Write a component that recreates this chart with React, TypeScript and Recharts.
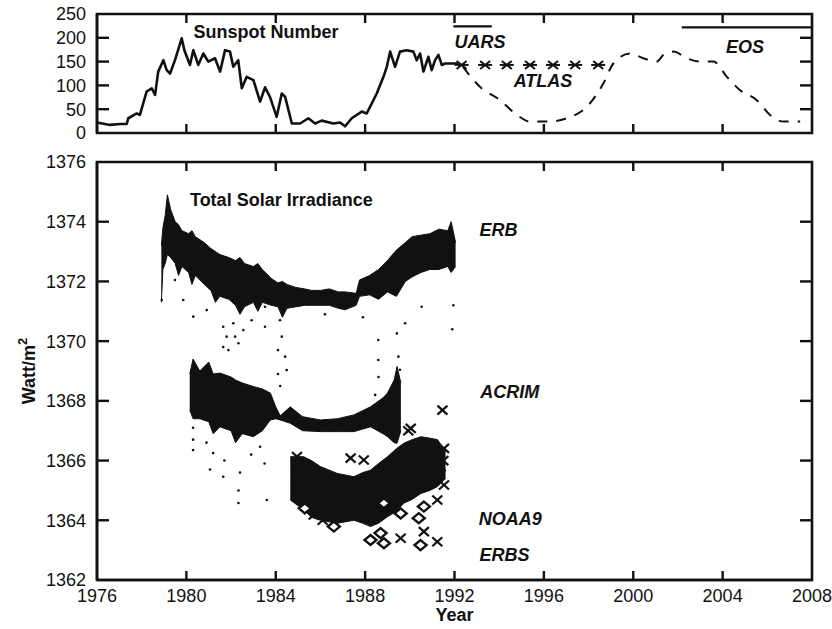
import React from "react";
import {
  ComposedChart,
  Line,
  Area,
  Scatter,
  XAxis,
  YAxis,
  ReferenceDot,
  Label,
} from "recharts";

// axes
const yearTicks = [1976, 1980, 1984, 1988, 1992, 1996, 2000, 2004, 2008];
const sunspotTicks = [0, 50, 100, 150, 200, 250];
const tsiTicks = [1362, 1364, 1366, 1368, 1370, 1372, 1374, 1376];

// top panel: sunspot number
const sunspotObserved = [
  { x: 1976.0, y: 22 }, { x: 1976.58, y: 17 }, { x: 1977.03, y: 19 }, { x: 1977.33, y: 19 },
  { x: 1977.4, y: 31 }, { x: 1977.78, y: 41 }, { x: 1977.92, y: 38 }, { x: 1978.22, y: 87 },
  { x: 1978.45, y: 94 }, { x: 1978.6, y: 80 }, { x: 1978.74, y: 129 }, { x: 1978.97, y: 153 },
  { x: 1979.12, y: 132 }, { x: 1979.27, y: 125 }, { x: 1979.49, y: 153 }, { x: 1979.79, y: 199 },
  { x: 1979.91, y: 174 }, { x: 1980.16, y: 143 }, { x: 1980.31, y: 174 }, { x: 1980.53, y: 143 },
  { x: 1980.76, y: 167 }, { x: 1980.98, y: 150 }, { x: 1981.28, y: 157 }, { x: 1981.51, y: 129 },
  { x: 1981.73, y: 174 }, { x: 1981.95, y: 171 }, { x: 1982.1, y: 139 }, { x: 1982.32, y: 153 },
  { x: 1982.48, y: 94 }, { x: 1982.7, y: 118 }, { x: 1983.0, y: 111 }, { x: 1983.3, y: 66 },
  { x: 1983.52, y: 96 }, { x: 1983.74, y: 76 }, { x: 1984.04, y: 34 }, { x: 1984.27, y: 83 },
  { x: 1984.42, y: 76 }, { x: 1984.72, y: 20 }, { x: 1985.09, y: 20 }, { x: 1985.46, y: 31 },
  { x: 1985.76, y: 20 }, { x: 1986.06, y: 26 }, { x: 1986.58, y: 20 }, { x: 1986.88, y: 22 },
  { x: 1987.1, y: 14 }, { x: 1987.4, y: 31 }, { x: 1987.85, y: 45 }, { x: 1988.07, y: 41 },
  { x: 1988.22, y: 55 }, { x: 1988.52, y: 83 }, { x: 1988.82, y: 118 }, { x: 1988.97, y: 139 },
  { x: 1989.12, y: 171 }, { x: 1989.34, y: 139 }, { x: 1989.56, y: 171 }, { x: 1989.86, y: 174 },
  { x: 1990.16, y: 171 }, { x: 1990.31, y: 153 }, { x: 1990.46, y: 167 }, { x: 1990.61, y: 129 },
  { x: 1990.83, y: 160 }, { x: 1990.98, y: 132 }, { x: 1991.13, y: 153 }, { x: 1991.28, y: 164 },
  { x: 1991.43, y: 143 }, { x: 1991.58, y: 146 }, { x: 1992.17, y: 146 },
];

const sunspotPredicted = [
  { x: 1992.38, y: 139 }, { x: 1993.14, y: 97 }, { x: 1994.04, y: 69 }, { x: 1994.79, y: 38 },
  { x: 1995.38, y: 24 }, { x: 1996.28, y: 24 }, { x: 1997.02, y: 31 }, { x: 1997.92, y: 55 },
  { x: 1998.66, y: 104 }, { x: 1999.11, y: 146 }, { x: 1999.86, y: 167 }, { x: 2000.45, y: 157 },
  { x: 2001.05, y: 150 }, { x: 2001.35, y: 164 }, { x: 2001.8, y: 171 }, { x: 2002.4, y: 157 },
  { x: 2003.0, y: 150 }, { x: 2003.59, y: 150 }, { x: 2004.19, y: 118 }, { x: 2004.78, y: 90 },
  { x: 2005.53, y: 69 }, { x: 2006.12, y: 38 }, { x: 2006.72, y: 24 }, { x: 2007.47, y: 24 },
];

const atlasFlights = [
  { x: 1992.32, y: 143 }, { x: 1993.37, y: 143 }, { x: 1994.34, y: 143 }, { x: 1995.38, y: 143 },
  { x: 1996.41, y: 143 }, { x: 1997.4, y: 143 }, { x: 1998.43, y: 143 },
];

const uarsSpan = [{ x: 1991.95, y: 224 }, { x: 1993.67, y: 224 }];
const eosSpan = [{ x: 2002.17, y: 222 }, { x: 2008, y: 222 }];

// bottom panel: total solar irradiance (dense record drawn as low/high envelope)
const erbBand = [
  { x: 1978.88, lo: 1371.3, hi: 1373.2 }, { x: 1978.95, lo: 1372.4, hi: 1373.8 },
  { x: 1979.05, lo: 1372.6, hi: 1374.2 }, { x: 1979.15, lo: 1372.9, hi: 1374.9 },
  { x: 1979.3, lo: 1372.8, hi: 1374.4 }, { x: 1979.5, lo: 1372.6, hi: 1374.0 },
  { x: 1979.65, lo: 1372.2, hi: 1373.9 }, { x: 1979.8, lo: 1372.5, hi: 1373.7 },
  { x: 1980.1, lo: 1372.3, hi: 1373.6 }, { x: 1980.25, lo: 1371.9, hi: 1373.7 },
  { x: 1980.4, lo: 1372.2, hi: 1373.5 }, { x: 1980.8, lo: 1371.9, hi: 1373.3 },
  { x: 1981.1, lo: 1371.7, hi: 1373.1 }, { x: 1981.3, lo: 1371.3, hi: 1373.0 },
  { x: 1981.5, lo: 1371.5, hi: 1372.9 }, { x: 1981.9, lo: 1371.4, hi: 1372.8 },
  { x: 1982.2, lo: 1371.2, hi: 1372.7 }, { x: 1982.4, lo: 1370.9, hi: 1372.8 },
  { x: 1982.6, lo: 1371.15, hi: 1372.6 }, { x: 1983.0, lo: 1371.3, hi: 1372.5 },
  { x: 1983.2, lo: 1371.0, hi: 1372.6 }, { x: 1983.4, lo: 1371.3, hi: 1372.4 },
  { x: 1983.8, lo: 1371.2, hi: 1372.1 }, { x: 1984.1, lo: 1371.15, hi: 1371.95 },
  { x: 1984.3, lo: 1370.8, hi: 1372.0 }, { x: 1984.5, lo: 1371.1, hi: 1371.9 },
  { x: 1984.9, lo: 1371.15, hi: 1371.8 }, { x: 1985.3, lo: 1371.2, hi: 1371.75 },
  { x: 1985.6, lo: 1371.2, hi: 1371.7 }, { x: 1986.0, lo: 1371.2, hi: 1371.7 },
  { x: 1986.4, lo: 1371.2, hi: 1371.75 }, { x: 1986.8, lo: 1371.1, hi: 1371.65 },
  { x: 1987.1, lo: 1371.05, hi: 1371.65 }, { x: 1987.6, lo: 1371.2, hi: 1371.6 },
  { x: 1987.75, lo: 1371.5, hi: 1372.05 }, { x: 1988.2, lo: 1371.55, hi: 1372.2 },
  { x: 1988.6, lo: 1371.4, hi: 1372.4 }, { x: 1989.0, lo: 1371.65, hi: 1372.7 },
  { x: 1989.4, lo: 1371.5, hi: 1373.05 }, { x: 1989.8, lo: 1372.0, hi: 1373.3 },
  { x: 1990.1, lo: 1372.15, hi: 1373.5 }, { x: 1990.5, lo: 1372.3, hi: 1373.55 },
  { x: 1990.9, lo: 1372.4, hi: 1373.6 }, { x: 1991.3, lo: 1372.4, hi: 1373.75 },
  { x: 1991.7, lo: 1372.5, hi: 1373.7 }, { x: 1991.85, lo: 1372.3, hi: 1374.0 },
  { x: 1992.05, lo: 1372.5, hi: 1373.3 },
];

const erbDropouts = [
  { x: 1978.9, y: 1371.38 }, { x: 1979.49, y: 1372.05 }, { x: 1979.86, y: 1371.38 },
  { x: 1980.31, y: 1370.82 }, { x: 1980.91, y: 1371.04 }, { x: 1981.65, y: 1370.48 },
  { x: 1981.65, y: 1369.8 }, { x: 1981.88, y: 1369.7 }, { x: 1981.8, y: 1370.15 },
  { x: 1982.1, y: 1370.6 }, { x: 1982.18, y: 1370.15 }, { x: 1982.33, y: 1369.93 },
  { x: 1982.55, y: 1370.37 }, { x: 1982.92, y: 1370.7 }, { x: 1983.52, y: 1370.48 },
  { x: 1983.52, y: 1371.15 }, { x: 1984.19, y: 1370.7 }, { x: 1984.27, y: 1370.15 },
  { x: 1984.42, y: 1369.48 }, { x: 1984.49, y: 1369.03 }, { x: 1984.1, y: 1369.7 },
  { x: 1984.1, y: 1368.9 }, { x: 1984.2, y: 1368.5 }, { x: 1988.59, y: 1370.04 },
  { x: 1988.59, y: 1369.37 }, { x: 1988.6, y: 1368.8 }, { x: 1988.45, y: 1368.2 },
  { x: 1989.42, y: 1370.26 }, { x: 1989.49, y: 1369.48 }, { x: 1989.56, y: 1369.04 },
  { x: 1989.79, y: 1370.6 }, { x: 1990.53, y: 1371.15 }, { x: 1991.9, y: 1370.4 },
  { x: 1991.95, y: 1371.2 }, { x: 1987.9, y: 1370.8 }, { x: 1986.2, y: 1370.9 },
];

const acrimBand = [
  { x: 1980.15, lo: 1367.7, hi: 1368.9 }, { x: 1980.3, lo: 1367.4, hi: 1369.4 },
  { x: 1980.6, lo: 1367.4, hi: 1369.0 }, { x: 1981.0, lo: 1367.3, hi: 1369.3 },
  { x: 1981.2, lo: 1366.9, hi: 1368.9 }, { x: 1981.5, lo: 1367.13, hi: 1368.93 },
  { x: 1982.0, lo: 1367.0, hi: 1368.8 }, { x: 1982.2, lo: 1366.6, hi: 1368.7 },
  { x: 1982.5, lo: 1366.9, hi: 1368.6 }, { x: 1983.0, lo: 1366.8, hi: 1368.48 },
  { x: 1983.4, lo: 1367.0, hi: 1368.4 }, { x: 1983.76, lo: 1367.36, hi: 1368.26 },
  { x: 1984.0, lo: 1367.4, hi: 1367.8 }, { x: 1984.2, lo: 1367.36, hi: 1367.5 },
  { x: 1984.65, lo: 1367.25, hi: 1367.8 }, { x: 1985.2, lo: 1367.0, hi: 1367.47 },
  { x: 1986.0, lo: 1366.97, hi: 1367.36 }, { x: 1986.75, lo: 1366.97, hi: 1367.4 },
  { x: 1987.5, lo: 1366.97, hi: 1367.53 }, { x: 1988.24, lo: 1367.13, hi: 1367.8 },
  { x: 1988.8, lo: 1366.9, hi: 1368.1 }, { x: 1989.0, lo: 1366.8, hi: 1368.26 },
  { x: 1989.3, lo: 1366.6, hi: 1368.7 }, { x: 1989.43, lo: 1366.58, hi: 1369.15 },
  { x: 1989.6, lo: 1367.0, hi: 1368.6 },
];

const acrimDropouts = [
  { x: 1980.3, y: 1367.1 }, { x: 1980.3, y: 1366.7 }, { x: 1980.3, y: 1366.35 },
  { x: 1981.06, y: 1365.7 }, { x: 1981.2, y: 1366.25 }, { x: 1981.65, y: 1365.46 },
  { x: 1981.7, y: 1366.0 }, { x: 1982.33, y: 1365.0 }, { x: 1982.33, y: 1364.58 },
  { x: 1982.4, y: 1365.6 }, { x: 1983.3, y: 1366.46 }, { x: 1983.6, y: 1364.68 },
  { x: 1983.5, y: 1365.9 }, { x: 1980.9, y: 1366.6 }, { x: 1982.9, y: 1366.2 },
];

const noaaBand = [
  { x: 1984.65, lo: 1364.68, hi: 1366.13 }, { x: 1985.25, lo: 1364.35, hi: 1366.13 },
  { x: 1985.6, lo: 1364.1, hi: 1366.0 }, { x: 1986.0, lo: 1364.0, hi: 1365.8 },
  { x: 1986.75, lo: 1363.9, hi: 1365.57 }, { x: 1987.5, lo: 1364.0, hi: 1365.46 },
  { x: 1987.9, lo: 1363.9, hi: 1365.6 }, { x: 1988.24, lo: 1363.79, hi: 1365.68 },
  { x: 1988.6, lo: 1363.9, hi: 1365.9 }, { x: 1989.0, lo: 1364.12, hi: 1366.13 },
  { x: 1989.4, lo: 1364.3, hi: 1366.4 }, { x: 1989.73, lo: 1364.57, hi: 1366.58 },
  { x: 1990.1, lo: 1364.7, hi: 1366.7 }, { x: 1990.5, lo: 1364.9, hi: 1366.8 },
  { x: 1990.9, lo: 1365.0, hi: 1366.75 }, { x: 1991.24, lo: 1365.13, hi: 1366.7 },
  { x: 1991.6, lo: 1365.4, hi: 1366.3 },
];

const erbsMarks = [
  { x: 1991.46, y: 1367.69 }, { x: 1991.53, y: 1366.41 }, { x: 1991.53, y: 1365.18 },
  { x: 1991.23, y: 1364.68 }, { x: 1991.23, y: 1363.28 }, { x: 1990.63, y: 1363.62 },
  { x: 1989.59, y: 1363.4 }, { x: 1987.35, y: 1366.08 }, { x: 1987.94, y: 1366.02 },
  { x: 1984.95, y: 1366.13 }, { x: 1985.7, y: 1364.18 }, { x: 1990.04, y: 1367.08 },
  { x: 1991.38, y: 1365.8 }, { x: 1989.93, y: 1367.0 }, { x: 1991.5, y: 1366.0 },
  { x: 1986.1, y: 1364.0 },
];

const noaaMarks = [
  { x: 1988.24, y: 1363.34 }, { x: 1988.84, y: 1363.23 }, { x: 1989.59, y: 1364.23 },
  { x: 1990.4, y: 1364.07 }, { x: 1990.63, y: 1364.46 }, { x: 1988.69, y: 1363.57 },
  { x: 1990.48, y: 1363.17 }, { x: 1988.84, y: 1364.57 }, { x: 1986.6, y: 1363.79 },
  { x: 1985.3, y: 1364.4 },
];

// frame and tick positions, built from the tick lists above
const first = (a: number[]) => a[0];
const last = (a: number[]) => a[a.length - 1];
const boxOf = (ys: number[]) => [
  { x: first(yearTicks), y: first(ys) }, { x: last(yearTicks), y: first(ys) },
  { x: last(yearTicks), y: last(ys) }, { x: first(yearTicks), y: last(ys) },
  { x: first(yearTicks), y: first(ys) },
];
const innerYears = yearTicks.slice(1, -1);
const sunspotBox = boxOf(sunspotTicks);
const tsiBox = boxOf(tsiTicks);
const sunspotBottomTicks = innerYears.map((x) => ({ x, y: first(sunspotTicks) }));
const sunspotTopTicks = innerYears.map((x) => ({ x, y: last(sunspotTicks) }));
const sunspotLeftTicks = sunspotTicks.slice(1, -1).map((y) => ({ x: first(yearTicks), y }));
const sunspotRightTicks = sunspotTicks.slice(1, -1).map((y) => ({ x: last(yearTicks), y }));
const tsiBottomTicks = innerYears.map((x) => ({ x, y: first(tsiTicks) }));
const tsiTopTicks = innerYears.map((x) => ({ x, y: last(tsiTicks) }));
const tsiLeftTicks = tsiTicks.slice(1, -1).map((y) => ({ x: first(yearTicks), y }));
const tsiRightTicks = tsiTicks.slice(1, -1).map((y) => ({ x: last(yearTicks), y }));

const font = '"Liberation Sans", Arial, Helvetica, sans-serif';
const ink = "#111";

const tickStyle = { fill: ink, fontSize: 18, fontFamily: font };

const X_LEN = 9;
const Y_LEN = 12;
const TICK_W = 2.4;
const UpTick = (p: any) => (
  <path d={`M${p.cx},${p.cy}V${p.cy - X_LEN}`} stroke={ink} strokeWidth={TICK_W} fill="none" />
);
const DownTick = (p: any) => (
  <path d={`M${p.cx},${p.cy}V${p.cy + X_LEN}`} stroke={ink} strokeWidth={TICK_W} fill="none" />
);
const RightTick = (p: any) => (
  <path d={`M${p.cx},${p.cy}H${p.cx + Y_LEN}`} stroke={ink} strokeWidth={TICK_W} fill="none" />
);
const LeftTick = (p: any) => (
  <path d={`M${p.cx},${p.cy}H${p.cx - Y_LEN}`} stroke={ink} strokeWidth={TICK_W} fill="none" />
);

const XMark = (p: any) => (
  <g stroke={ink} strokeWidth={2.2}>
    <line x1={p.cx - 5} y1={p.cy - 4.5} x2={p.cx + 5} y2={p.cy + 4.5} />
    <line x1={p.cx - 5} y1={p.cy + 4.5} x2={p.cx + 5} y2={p.cy - 4.5} />
  </g>
);

const DiamondMark = (p: any) => (
  <polygon
    points={`${p.cx},${p.cy - 5} ${p.cx + 6},${p.cy} ${p.cx},${p.cy + 5} ${p.cx - 6},${p.cy}`}
    fill="#fff"
    stroke={ink}
    strokeWidth={2.4}
  />
);

const AsteriskMark = (p: any) => (
  <g stroke={ink} strokeWidth={2}>
    <line x1={p.cx - 7} y1={p.cy} x2={p.cx + 7} y2={p.cy} />
    <line x1={p.cx - 5} y1={p.cy - 4} x2={p.cx + 5} y2={p.cy + 4} />
    <line x1={p.cx - 5} y1={p.cy + 4} x2={p.cx + 5} y2={p.cy - 4} />
  </g>
);

const SmallDot = (p: any) => <circle cx={p.cx} cy={p.cy} r={1.3} fill={ink} />;

const note = (value: string, italic = false) => ({
  value,
  position: "center" as const,
  fill: ink,
  fontSize: 18,
  fontWeight: 700,
  fontStyle: italic ? "italic" : "normal",
  fontFamily: font,
});

const range = (d: any) => [d.lo, d.hi];

const WattLabel = (props: any) => {
  const vb = props.viewBox || { x: 0, y: 0, width: 97, height: 418 };
  const cx = vb.x + 35;
  const cy = vb.y + vb.height / 2;
  return (
    <text
      x={cx}
      y={cy}
      transform={`rotate(-90 ${cx} ${cy})`}
      textAnchor="middle"
      fill={ink}
      fontSize={18}
      fontWeight={700}
      fontFamily={font}
    >
      Watt/m<tspan dy={-8} fontSize={13}>2</tspan>
    </text>
  );
};

const frameStyle = { stroke: ink, strokeWidth: 2.6 };

const App = () => {
  return (
    <div style={{ position: "absolute", left: 0, top: 0, width: 832, height: 629, background: "#fff" }}>
      <div style={{ position: "absolute", left: 0, top: 0 }}>
        <ComposedChart width={832} height={146} margin={{ top: 14, right: 20, bottom: 13, left: 0 }}>
          <XAxis xAxisId="b" dataKey="x" type="number" domain={[1976, 2008]} ticks={yearTicks} hide />
          <YAxis yAxisId="l" dataKey="y" type="number" domain={[0, 250]} ticks={sunspotTicks} interval={0}
            width={97} tick={tickStyle} tickSize={0} tickMargin={11} tickLine={false} axisLine={frameStyle} />

          <Line xAxisId="b" yAxisId="l" data={sunspotObserved} dataKey="y" type="linear"
            stroke={ink} strokeWidth={2.6} strokeLinejoin="round" dot={false} isAnimationActive={false} />
          <Line xAxisId="b" yAxisId="l" data={sunspotPredicted} dataKey="y" type="monotone"
            stroke={ink} strokeWidth={2} strokeDasharray="10 9" dot={false} isAnimationActive={false} />
          <Line xAxisId="b" yAxisId="l" data={uarsSpan} dataKey="y" stroke={ink} strokeWidth={2.4}
            dot={false} isAnimationActive={false} />
          <Line xAxisId="b" yAxisId="l" data={eosSpan} dataKey="y" stroke={ink} strokeWidth={2.4}
            dot={false} isAnimationActive={false} />
          <Scatter xAxisId="b" yAxisId="l" data={atlasFlights} shape={AsteriskMark} isAnimationActive={false} />

          <Line xAxisId="b" yAxisId="l" data={sunspotBox} dataKey="y" type="linear" stroke={ink}
            strokeWidth={2.6} strokeLinecap="square" dot={false} isAnimationActive={false} />
          <Scatter xAxisId="b" yAxisId="l" data={sunspotBottomTicks} shape={UpTick} isAnimationActive={false} />
          <Scatter xAxisId="b" yAxisId="l" data={sunspotTopTicks} shape={DownTick} isAnimationActive={false} />
          <Scatter xAxisId="b" yAxisId="l" data={sunspotLeftTicks} shape={RightTick} isAnimationActive={false} />
          <Scatter xAxisId="b" yAxisId="l" data={sunspotRightTicks} shape={LeftTick} isAnimationActive={false} />

          <ReferenceDot xAxisId="b" yAxisId="l" x={1983.56} y={214} r={0} stroke="none" label={note("Sunspot Number")} />
          <ReferenceDot xAxisId="b" yAxisId="l" x={1993.14} y={193} r={0} stroke="none" label={note("UARS", true)} />
          <ReferenceDot xAxisId="b" yAxisId="l" x={1995.96} y={111} r={0} stroke="none" label={note("ATLAS", true)} />
          <ReferenceDot xAxisId="b" yAxisId="l" x={2005.0} y={181} r={0} stroke="none" label={note("EOS", true)} />
        </ComposedChart>
      </div>

      <div style={{ position: "absolute", left: 0, top: 146 }}>
        <ComposedChart width={832} height={483} margin={{ top: 16, right: 20, bottom: 0, left: 0 }}>
          <XAxis xAxisId="b" dataKey="x" type="number" domain={[1976, 2008]} ticks={yearTicks} interval={0}
            height={49} tick={tickStyle} tickSize={0} tickMargin={9} tickLine={false} axisLine={frameStyle}>
            <Label value="Year" position="insideBottom" offset={8} fill={ink} fontSize={18}
              fontWeight={700} fontFamily={font} />
          </XAxis>
          <YAxis yAxisId="l" dataKey="y" type="number" domain={[1362, 1376]} ticks={tsiTicks} interval={0}
            width={97} tick={tickStyle} tickSize={0} tickMargin={11} tickLine={false} axisLine={frameStyle}>
            <Label content={WattLabel} />
          </YAxis>

          <Area xAxisId="b" yAxisId="l" data={erbBand} dataKey={range} type="linear"
            fill={ink} fillOpacity={1} stroke={ink} strokeWidth={1} isAnimationActive={false} />
          <Scatter xAxisId="b" yAxisId="l" data={erbDropouts} shape={SmallDot} isAnimationActive={false} />
          <Area xAxisId="b" yAxisId="l" data={acrimBand} dataKey={range} type="linear"
            fill={ink} fillOpacity={1} stroke={ink} strokeWidth={1} isAnimationActive={false} />
          <Scatter xAxisId="b" yAxisId="l" data={acrimDropouts} shape={SmallDot} isAnimationActive={false} />
          <Area xAxisId="b" yAxisId="l" data={noaaBand} dataKey={range} type="linear"
            fill={ink} fillOpacity={1} stroke={ink} strokeWidth={1} isAnimationActive={false} />
          <Scatter xAxisId="b" yAxisId="l" data={noaaMarks} shape={DiamondMark} isAnimationActive={false} />
          <Scatter xAxisId="b" yAxisId="l" data={erbsMarks} shape={XMark} isAnimationActive={false} />

          <Line xAxisId="b" yAxisId="l" data={tsiBox} dataKey="y" type="linear" stroke={ink}
            strokeWidth={2.6} strokeLinecap="square" dot={false} isAnimationActive={false} />
          <Scatter xAxisId="b" yAxisId="l" data={tsiBottomTicks} shape={UpTick} isAnimationActive={false} />
          <Scatter xAxisId="b" yAxisId="l" data={tsiTopTicks} shape={DownTick} isAnimationActive={false} />
          <Scatter xAxisId="b" yAxisId="l" data={tsiLeftTicks} shape={RightTick} isAnimationActive={false} />
          <Scatter xAxisId="b" yAxisId="l" data={tsiRightTicks} shape={LeftTick} isAnimationActive={false} />

          <ReferenceDot xAxisId="b" yAxisId="l" x={1984.25} y={1374.73} r={0} stroke="none" label={note("Total Solar Irradiance")} />
          <ReferenceDot xAxisId="b" yAxisId="l" x={1993.97} y={1373.72} r={0} stroke="none" label={note("ERB", true)} />
          <ReferenceDot xAxisId="b" yAxisId="l" x={1994.47} y={1368.3} r={0} stroke="none" label={note("ACRIM", true)} />
          <ReferenceDot xAxisId="b" yAxisId="l" x={1994.5} y={1364.04} r={0} stroke="none" label={note("NOAA9", true)} />
          <ReferenceDot xAxisId="b" yAxisId="l" x={1994.24} y={1362.84} r={0} stroke="none" label={note("ERBS", true)} />
        </ComposedChart>
      </div>
    </div>
  );
};

export default App;
